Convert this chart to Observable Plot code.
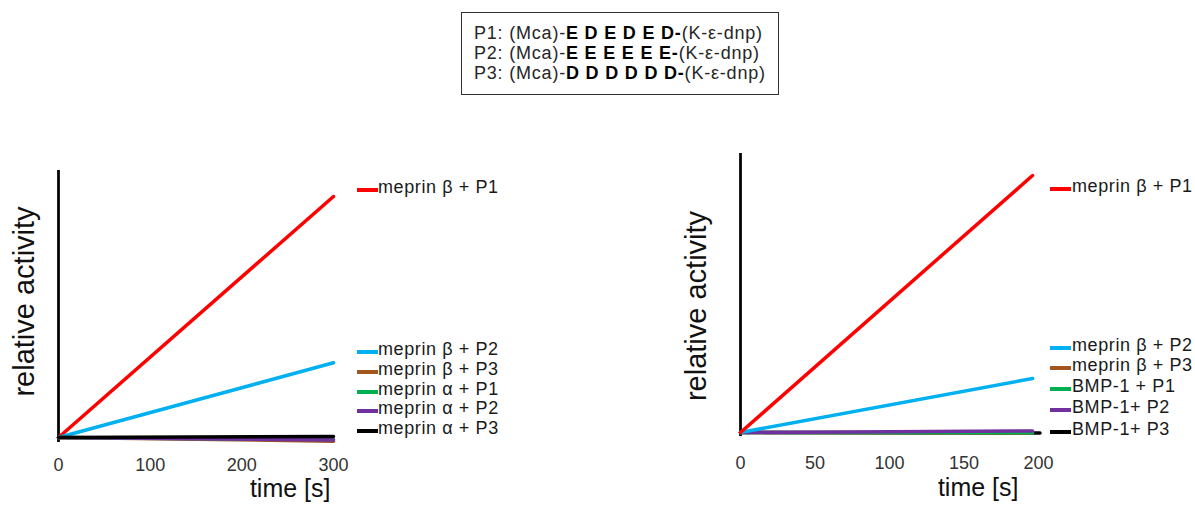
<!DOCTYPE html>
<html>
<head>
<meta charset="utf-8">
<script src="https://cdn.jsdelivr.net/npm/d3@7"></script>
<script src="https://cdn.jsdelivr.net/npm/@observablehq/plot@0.6"></script>
<style>
  html, body { margin: 0; padding: 0; background: #ffffff; }
  #root { position: relative; width: 1195px; height: 506px; overflow: hidden;
          font-family: "Liberation Sans", Arial, sans-serif; color: #1a1a1a; }
  .abs { position: absolute; }
  #box { left: 461px; top: 12px; width: 318px; height: 83px; box-sizing: border-box;
         border: 1.5px solid #333; padding: 10px 0 0 12px; font-size: 18px; line-height: 20px;
         letter-spacing: 0.8px; color: #262626; white-space: nowrap; }
  #box b { color: #000; }
  .leg { position: absolute; font-size: 18px; line-height: 20px; letter-spacing: 0.6px;
         color: #1a1a1a; white-space: nowrap; }
  .sw { position: absolute; width: 21px; height: 3.5px; }
</style>
</head>
<body>
<div id="root">
  <div id="box" class="abs">
    <div>P1: (Mca)-<b>E D E D E D-</b>(K-ε-dnp)</div>
    <div>P2: (Mca)-<b>E E E E E E-</b>(K-ε-dnp)</div>
    <div>P3: (Mca)-<b>D D D D D D-</b>(K-ε-dnp)</div>
  </div>
  <div id="left" class="abs" style="left:0px; top:140px;"></div>
  <div id="right" class="abs" style="left:680px; top:130px;"></div>
</div>
<script>
// ---------- data ----------
const seriesColors = ["#ff0000", "#00b0f0", "#a0561c", "#00b050", "#7030a0", "#000000"];

// left panel: meprin β / meprin α
const leftSeries = ["meprin β + P1", "meprin β + P2", "meprin β + P3",
                    "meprin α + P1", "meprin α + P2", "meprin α + P3"];
const leftStartTime = [0, 0, 0, 0, 0, 0];
const leftEndTime = [300, 300, 300, 300, 300, 300];
const leftStartValue = [0, 0, 0, 0, 0, 0];
const leftEndValue = [1.0, 0.31, -0.015, -0.008, -0.01, 0.004];
const leftTicks = [0, 100, 200, 300];

// right panel: meprin β / BMP-1
const rightSeries = ["meprin β + P1", "meprin β + P2", "meprin β + P3",
                     "BMP-1 + P1", "BMP-1+ P2", "BMP-1+ P3"];
const rightStartTime = [0, 0, 0, 0, 0, 0];
const rightEndTime = [196, 196, 196, 196, 196, 201];
const rightStartValue = [0, 0, 0, 0, 0, 0];
const rightEndValue = [1.0, 0.21, -0.002, -0.001, 0.006, -0.002];
const rightTicks = [0, 50, 100, 150, 200];

const xLabel = "time [s]";
const yLabel = "relative activity";

// ---------- layout ----------
const FONT = "Liberation Sans, Arial, sans-serif";
const leftLegendY = [190, 352, 372, 392, 411, 431];
const rightLegendY = [189, 348, 368, 389, 410, 432];
const leftDrawOrder = [0, 1, 2, 3, 4, 5];
const rightDrawOrder = [5, 2, 3, 4, 1, 0];

function rows(names, t0, t1, v0, v1, order) {
  const out = [];
  order.forEach(i => {
    out.push({series: names[i], t: t0[i], v: v0[i]});
    out.push({series: names[i], t: t1[i], v: v1[i]});
  });
  return out;
}

function panel(cfg) {
  return Plot.plot({
    width: cfg.width,
    height: cfg.height,
    marginLeft: cfg.ml,
    marginRight: cfg.mr,
    marginTop: cfg.mt,
    marginBottom: cfg.mb,
    style: {fontFamily: FONT, fontSize: "18px", color: "#333", background: "transparent", overflow: "visible"},
    x: {domain: cfg.xDomain, ticks: cfg.ticks, tickSize: 0, tickPadding: cfg.tickPad, label: null, tickFormat: d => String(d)},
    y: {domain: cfg.yDomain, axis: null},
    color: {domain: cfg.names, range: seriesColors},
    marks: [
      Plot.ruleX([0], {stroke: "#000", strokeWidth: 2.75}),
      Plot.line(cfg.data, {x: "t", y: "v", z: "series", stroke: "series", strokeWidth: 3.5}),
      Plot.text([xLabel], {text: d => d, frameAnchor: "bottom-right", textAnchor: "end",
                           dx: cfg.xlDx, dy: cfg.xlDy, fontSize: 25, fill: "#111", letterSpacing: "0.3px"}),
      Plot.text([yLabel], {text: d => d, frameAnchor: "left", textAnchor: "middle", rotate: -90,
                           dx: cfg.ylDx, dy: cfg.ylDy, fontSize: 29, fill: "#111"})
    ]
  });
}

const leftChart = panel({
  width: 560, height: 366, ml: 58, mr: 227, mt: 30, mb: 64,
  xDomain: [0, 300], yDomain: [-0.0207, 1.108], ticks: leftTicks, tickPad: 16,
  names: leftSeries,
  data: rows(leftSeries, leftStartTime, leftEndTime, leftStartValue, leftEndValue, leftDrawOrder),
  xlDx: -3, xlDy: 54, ylDx: -34, ylDy: -5
});
document.getElementById("left").appendChild(leftChart);

const rightChart = panel({
  width: 515, height: 376, ml: 60, mr: 157, mt: 23, mb: 70,
  xDomain: [0, 200], yDomain: [-0.0156, 1.0856], ticks: rightTicks, tickPad: 20,
  names: rightSeries,
  data: rows(rightSeries, rightStartTime, rightEndTime, rightStartValue, rightEndValue, rightDrawOrder),
  xlDx: -20, xlDy: 59, ylDx: -44, ylDy: 11
});
document.getElementById("right").appendChild(rightChart);

// ---------- legends ----------
function legend(names, ys, swX, textX) {
  const root = document.getElementById("root");
  names.forEach((name, i) => {
    const sw = document.createElement("div");
    sw.className = "sw";
    sw.style.left = swX + "px";
    sw.style.top = (ys[i] - 1.75) + "px";
    sw.style.background = seriesColors[i];
    root.appendChild(sw);
    const t = document.createElement("div");
    t.className = "leg";
    t.style.left = textX + "px";
    t.style.top = (ys[i] - 13.5) + "px";
    t.textContent = name;
    root.appendChild(t);
  });
}
legend(leftSeries, leftLegendY, 357, 378);
legend(rightSeries, rightLegendY, 1050, 1072);
</script>
</body>
</html>
